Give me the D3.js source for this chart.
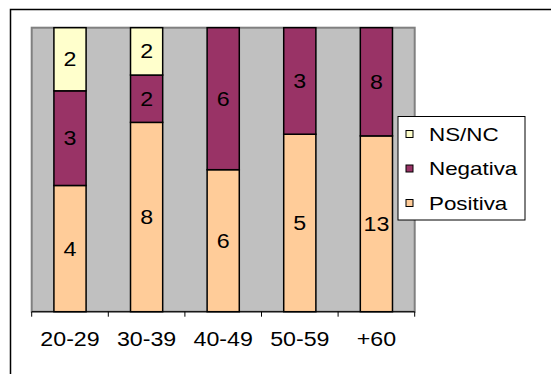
<!DOCTYPE html>
<html>
<head>
<meta charset="utf-8">
<script src="https://cdn.jsdelivr.net/npm/d3@7"></script>
<style>
  html, body { margin: 0; padding: 0; background: #fff; }
  svg { display: block; }
  text { font-family: "Liberation Sans", Arial, sans-serif; fill: #000; }
</style>
</head>
<body>
<svg id="chart" width="551" height="374"></svg>
<script>
const categories = ["20-29", "30-39", "40-49", "50-59", "+60"];
const seriesNames = ["Positiva", "Negativa", "NS/NC"];
const positiva = [4, 8, 6, 5, 13];
const negativa = [3, 2, 6, 3, 8];
const nsnc = [2, 2, 0, 0, 0];
const colors = {"Positiva": "#FFCC99", "Negativa": "#993366", "NS/NC": "#FFFFCC"};
const legendOrder = ["NS/NC", "Negativa", "Positiva"];

const rows = categories.map((c, i) => ({cat: c, "Positiva": positiva[i], "Negativa": negativa[i], "NS/NC": nsnc[i]}));

const svg = d3.select("#chart");
const plot = {x0: 31.7, x1: 414.7, y0: 27.7, y1: 311.7};
const SX = 1.19;
const FS = 19.5;

// outer chart border (extends beyond the picture on right/bottom)
svg.append("rect").attr("x", 10.5).attr("y", 9.5).attr("width", 600).attr("height", 400)
  .attr("fill", "#fff").attr("stroke", "#000").attr("stroke-width", 1.5);

const x = d3.scaleBand().domain(categories).range([plot.x0, plot.x1]).paddingInner(0.58).paddingOuter(0.29);
const y = d3.scaleLinear().domain([0, 1]).range([plot.y1, plot.y0]);

svg.append("rect").attr("x", plot.x0).attr("y", plot.y0)
  .attr("width", plot.x1 - plot.x0).attr("height", plot.y1 - plot.y0)
  .attr("fill", "#C0C0C0").attr("stroke", "#808080").attr("stroke-width", 2);

const stack = d3.stack().keys(seriesNames).offset(d3.stackOffsetExpand);
const stacked = stack(rows);

const g = svg.append("g");
stacked.forEach(layer => {
  layer.forEach(d => {
    const v = d.data[layer.key];
    if (!v) return;
    g.append("rect")
      .attr("x", x(d.data.cat)).attr("width", x.bandwidth())
      .attr("y", y(d[1])).attr("height", y(d[0]) - y(d[1]))
      .attr("fill", colors[layer.key]).attr("stroke", "#000").attr("stroke-width", 1.5);
  });
});
stacked.forEach(layer => {
  layer.forEach(d => {
    const v = d.data[layer.key];
    if (!v) return;
    const cx = x(d.data.cat) + x.bandwidth() / 2;
    const cy = (y(d[0]) + y(d[1])) / 2;
    g.append("text")
      .attr("transform", `translate(${cx},${cy + 7}) scale(${SX},1)`)
      .attr("text-anchor", "middle").attr("font-size", FS).text(v);
  });
});

// x axis
const axisG = svg.append("g").attr("transform", `translate(0,${plot.y1})`);
axisG.append("line").attr("x1", plot.x0).attr("x2", plot.x1).attr("stroke", "#000").attr("stroke-width", 1);
const edges = categories.map((c, i) => plot.x0 + i * x.step()).concat([plot.x1]);
edges.forEach(ex => {
  axisG.append("line").attr("x1", ex).attr("x2", ex).attr("y1", 0).attr("y2", 5).attr("stroke", "#000").attr("stroke-width", 1);
});
categories.forEach(c => {
  axisG.append("text")
    .attr("transform", `translate(${x(c) + x.bandwidth() / 2},${346 - plot.y1}) scale(${SX},1)`)
    .attr("text-anchor", "middle").attr("font-size", FS).text(c);
});

// legend
const lg = svg.append("g");
lg.append("rect").attr("x", 398).attr("y", 116.5).attr("width", 127).attr("height", 103.5)
  .attr("fill", "#fff").attr("stroke", "#000").attr("stroke-width", 1);
const legendY = d3.scalePoint().domain(legendOrder).range([134, 203]);
legendOrder.forEach(k => {
  const cy = legendY(k);
  lg.append("rect").attr("x", 406).attr("y", cy - 3.5).attr("width", 7).attr("height", 7)
    .attr("fill", colors[k]).attr("stroke", "#000").attr("stroke-width", 1);
  lg.append("text")
    .attr("transform", `translate(429,${cy + 6.5}) scale(${SX},1)`)
    .attr("font-size", 18.8).text(k);
});
</script>
</body>
</html>
